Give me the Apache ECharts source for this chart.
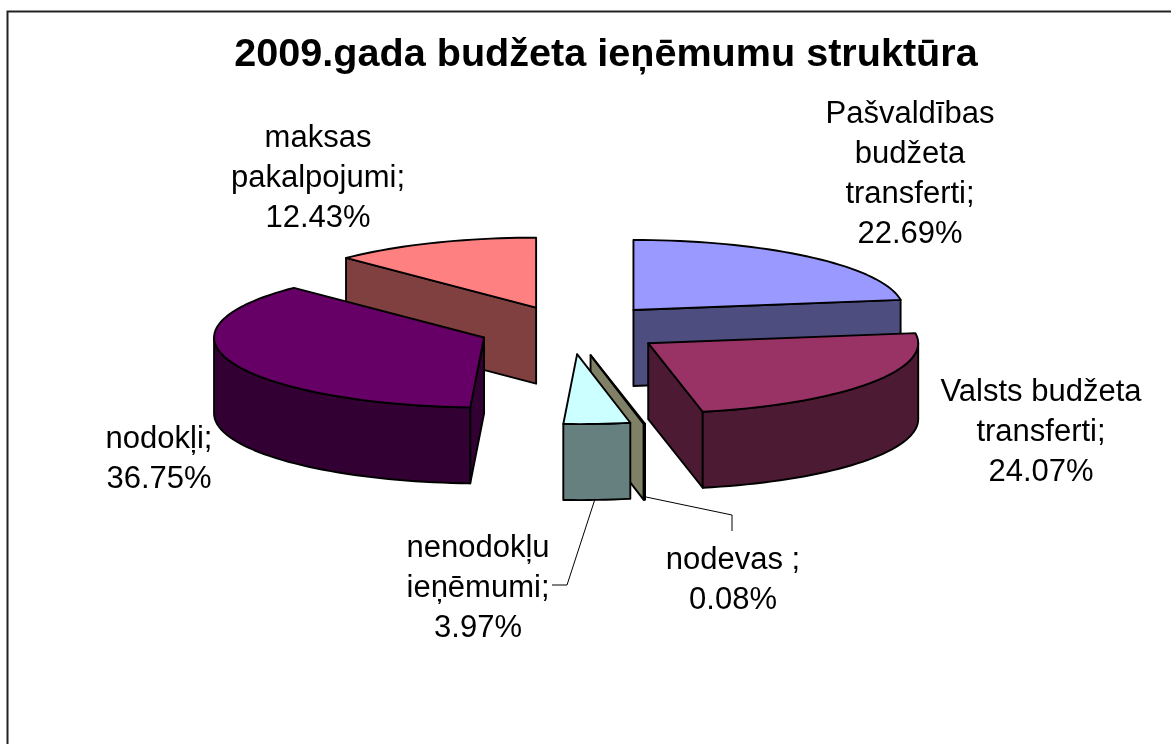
<!DOCTYPE html>
<html>
<head>
<meta charset="utf-8">
<title>2009.gada budžeta ieņēmumu struktūra</title>
<style>
html, body { margin: 0; padding: 0; background: #fff; }
#main { width: 1171px; height: 744px; }
</style>
<script src="https://cdn.jsdelivr.net/npm/echarts@6/dist/echarts.min.js"></script>
</head>
<body>
<div id="main"></div>
<script>
const categories = ['Pašvaldības\nbudžeta\ntransferti', 'Valsts budžeta\ntransferti', 'nodevas ', 'nenodokļu\nieņēmumi', 'nodokļi', 'maksas\npakalpojumi'];
const shares = [22.69, 24.07, 0.08, 3.97, 36.75, 12.43];

// look of the slices, same order as categories
const topColors = ['#9999FF', '#993366', '#FFFFCC', '#CCFFFF', '#660066', '#FF8080'];
const sideColors = ['#4D4D80', '#4D1A33', '#808066', '#668080', '#330033', '#804040'];
const explode = [97, 95.5, 103, 97, 92, 89];
// higher is painted later, so it sits over the slices behind it
const paintOrder = [2, 4, 5, 6, 3, 1];
const labelPos = [[910, 174], [1041, 432], [733, 580], [478, 588], [159, 459], [318, 178]];
const leaders = [null, null, [[646, 497], [732, 515], [732, 531]], [[595, 499], [567, 585], [552, 585]], null, null];

const cx = 570, cy = 329, rx = 270, ry = 70, depth = 76;
const total = shares.reduce((a, b) => a + b, 0);

function rad(deg) { return deg * Math.PI / 180; }

function renderSlice(params, api) {
    const i = api.value(0);
    let before = 0;
    for (let k = 0; k < i; k++) before += shares[k];
    const a0 = before / total * 360;
    const a1 = (before + api.value(1)) / total * 360;
    const mid = rad((a0 + a1) / 2);
    const ox = cx + explode[i] * Math.sin(mid);
    const oy = cy - explode[i] * Math.cos(mid) * ry / rx;
    const rim = (deg, drop) => [ox + rx * Math.sin(rad(deg)), oy - ry * Math.cos(rad(deg)) + (drop || 0)];
    const arc = (from, to, drop) => {
        const pts = [];
        const n = Math.max(2, Math.ceil((to - from) / 2));
        for (let k = 0; k <= n; k++) pts.push(rim(from + (to - from) * k / n, drop));
        return pts;
    };
    const face = (points, fill) => ({
        type: 'polygon',
        z2: paintOrder[i] * 10,
        shape: { points: points },
        style: { fill: fill, stroke: '#000', lineWidth: 1.9, lineJoin: 'round' }
    });
    const cut = (deg) => {
        const p = rim(deg);
        return [[ox, oy], p, [p[0], p[1] + depth], [ox, oy + depth]];
    };
    const children = [];
    if (rim(a0)[0] < ox - 0.01) children.push(face(cut(a0), sideColors[i]));
    if (rim(a1)[0] > ox + 0.01) children.push(face(cut(a1), sideColors[i]));
    const w0 = Math.max(a0, 90), w1 = Math.min(a1, 270);
    if (w1 > w0) {
        children.push(face(arc(w0, w1).concat(arc(w0, w1, depth).reverse()), sideColors[i]));
    }
    children.push(face([[ox, oy]].concat(arc(a0, a1)), topColors[i]));
    return { type: 'group', children: children };
}

function renderLabel(params, api) {
    const i = api.value(0);
    const children = [{
        type: 'text',
        z2: 5000,
        style: {
            x: labelPos[i][0],
            y: labelPos[i][1],
            text: categories[i] + ';\n' + api.value(1).toFixed(2) + '%',
            fill: '#000',
            fontFamily: '"Liberation Sans", Arial, sans-serif',
            fontSize: 31,
            lineHeight: 40,
            align: 'center',
            verticalAlign: 'middle'
        }
    }];
    if (leaders[i]) {
        children.push({
            type: 'polyline',
            z2: 1,
            shape: { points: leaders[i] },
            style: { fill: 'none', stroke: '#000', lineWidth: 1 }
        });
    }
    return { type: 'group', children: children };
}

const rows = shares.map((v, i) => [i, v]);
const myChart = echarts.init(document.getElementById('main'));
myChart.setOption({
    animation: false,
    backgroundColor: '#fff',
    title: {
        text: '2009.gada budžeta ieņēmumu struktūra',
        left: 601,
        top: 30,
        textAlign: 'center',
        textStyle: {
            fontFamily: '"Liberation Sans", Arial, sans-serif',
            fontSize: 39.6,
            fontWeight: 'bold',
            color: '#000'
        }
    },
    graphic: [{
        type: 'polyline',
        shape: { points: [[7.5, 744], [7.5, 11.5], [1171, 11.5]] },
        style: { fill: 'none', stroke: '#222', lineWidth: 2 }
    }],
    series: [
        { type: 'custom', coordinateSystem: 'none', renderItem: renderSlice, data: rows, silent: true },
        { type: 'custom', coordinateSystem: 'none', renderItem: renderLabel, data: rows, silent: true }
    ]
});
</script>
</body>
</html>
